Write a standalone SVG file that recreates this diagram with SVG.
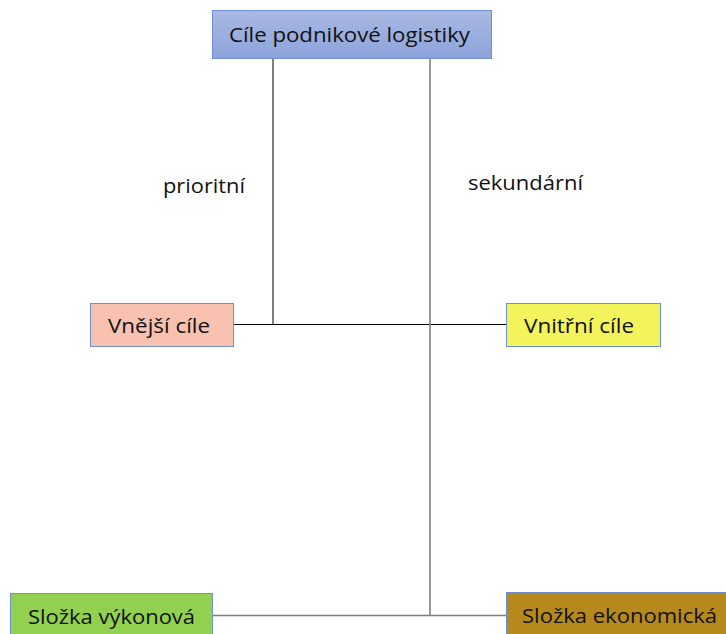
<svg xmlns="http://www.w3.org/2000/svg" width="726" height="634" viewBox="0 0 726 634">
<style>
text{font-family:"Open Sans","Liberation Sans",sans-serif;font-size:20px;fill:#111;}
.box{stroke:#6F8FD6;stroke-width:1;}
.blk{stroke:#000;stroke-width:1;fill:none;}
.gry{stroke:#7F7F7F;stroke-width:1.6;fill:none;}
</style>
<defs>
<linearGradient id="gTop" x1="0" y1="0" x2="0" y2="1">
<stop offset="0" stop-color="#AAB9E2"/>
<stop offset="1" stop-color="#8CA3DA"/>
</linearGradient>
</defs>
<rect width="726" height="634" fill="#fff"/>
<g id="connectors">
<line class="blk" x1="273" y1="59" x2="273" y2="324.5"/>
<line class="blk" x1="234" y1="324.5" x2="506" y2="324.5"/>
<line class="gry" x1="430" y1="59" x2="430" y2="615.5"/>
<line class="gry" x1="213" y1="615.5" x2="506" y2="615.5"/>
</g>
<g id="label-prioritni"><text x="163" y="193" textLength="82" lengthAdjust="spacingAndGlyphs">prioritní</text></g>
<g id="label-sekundarni"><text x="468" y="190" textLength="115" lengthAdjust="spacingAndGlyphs">sekundární</text></g>
<g id="node-top">
<rect class="box" x="212.5" y="10.5" width="279" height="48" fill="url(#gTop)"/>
<text x="229" y="42" textLength="241" lengthAdjust="spacingAndGlyphs">Cíle podnikové logistiky</text>
</g>
<g id="node-vnejsi">
<rect class="box" x="90.5" y="303.5" width="143" height="43" fill="#F8C1B0"/>
<text x="108" y="333" textLength="102" lengthAdjust="spacingAndGlyphs">Vnější cíle</text>
</g>
<g id="node-vnitrni">
<rect class="box" x="506.5" y="303.5" width="154" height="43" fill="#F3F45B"/>
<text x="524" y="333" textLength="110" lengthAdjust="spacingAndGlyphs">Vnitřní cíle</text>
</g>
<g id="node-vykonova">
<rect class="box" x="10.5" y="593.5" width="202" height="50" fill="#92D050"/>
<text x="28" y="624" textLength="167" lengthAdjust="spacingAndGlyphs">Složka výkonová</text>
</g>
<g id="node-ekonomicka">
<rect class="box" x="506.5" y="592.5" width="230" height="50" fill="#B5891C"/>
<text x="522" y="623" textLength="195" lengthAdjust="spacingAndGlyphs">Složka ekonomická</text>
</g>
</svg>
